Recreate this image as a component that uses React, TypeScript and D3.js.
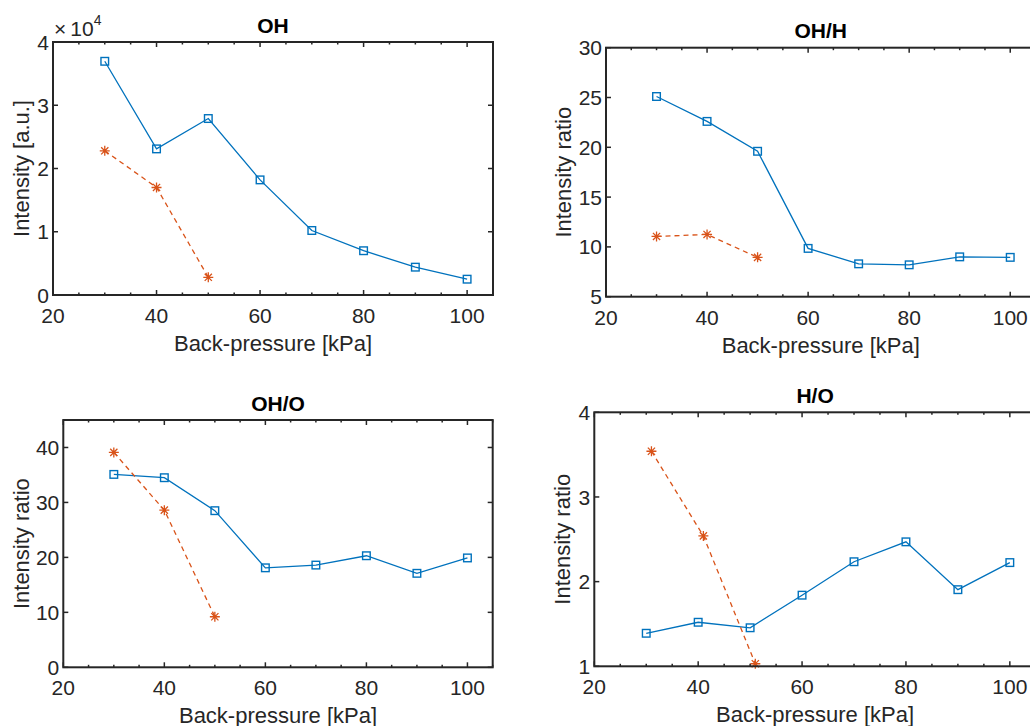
import React from "react";
import * as d3 from "d3";

// ---- data ----
const xBlue = [30, 40, 50, 60, 70, 80, 90, 100];
const xRed = [30, 40, 50];
const xRedHO = [31, 41, 51];

const ohBlue = [36950, 23100, 27900, 18200, 10200, 7000, 4400, 2500];
const ohRed = [22800, 17000, 2800];

const ohhBlue = [25.1, 22.6, 19.6, 9.85, 8.3, 8.2, 9.0, 8.95];
const ohhRed = [11.05, 11.25, 8.95];

const ohoBlue = [35.1, 34.5, 28.5, 18.1, 18.6, 20.3, 17.1, 19.9];
const ohoRed = [39.1, 28.6, 9.2];

const hoBlue = [1.39, 1.52, 1.455, 1.84, 2.235, 2.47, 1.905, 2.225];
const hoRed = [3.54, 2.54, 1.03];

const xTicks = [20, 40, 60, 80, 100];
const xMinorTicks = [25, 30, 35, 45, 50, 55, 65, 70, 75, 85, 90, 95, 105];
const ohTicks = [0, 10000, 20000, 30000, 40000];
const ohhTicks = [5, 10, 15, 20, 25, 30];
const ohoTicks = [0, 10, 20, 30, 40];
const hoTicks = [1, 2, 3, 4];

const titles = ["OH", "OH/H", "OH/O", "H/O"];
const xLabel = "Back-pressure [kPa]";
const yLabels = ["Intensity [a.u.]", "Intensity ratio", "Intensity ratio", "Intensity ratio"];

const BLUE = "#0072BD";
const RED = "#D95319";
const AX = "#262626";
const FONT = "'Liberation Sans', Arial, Helvetica, sans-serif";

type PanelProps = {
  left: number;
  right: number;
  top: number;
  bottom: number;
  yDomain: [number, number];
  yTicks: number[];
  yFmt: (v: number) => string;
  title: string;
  yLabel: string;
  yLabelX: number;
  blueX: number[];
  blueY: number[];
  redX: number[];
  redY: number[];
  exponent?: boolean;
};

function Panel(p: PanelProps) {
  const x = d3.scaleLinear().domain([20, 105]).range([p.left, p.right]);
  const y = d3.scaleLinear().domain(p.yDomain).range([p.bottom, p.top]);
  const line = d3
    .line<[number, number]>()
    .x((d) => x(d[0]))
    .y((d) => y(d[1]));
  const blue: [number, number][] = p.blueX.map((v, i) => [v, p.blueY[i]]);
  const red: [number, number][] = p.redX.map((v, i) => [v, p.redY[i]]);
  const cx = (p.left + p.right) / 2;
  const cy = (p.top + p.bottom) / 2;
  const MJ = 5;
  const MN = 2.5;
  return (
    <g>
      {/* data */}
      <path d={line(blue) || ""} fill="none" stroke={BLUE} strokeWidth={1.3} />
      {blue.map((d, i) => (
        <rect
          key={"b" + i}
          x={x(d[0]) - 3.8}
          y={y(d[1]) - 3.8}
          width={7.6}
          height={7.6}
          fill="none"
          stroke={BLUE}
          strokeWidth={1.4}
        />
      ))}
      <path
        d={line(red) || ""}
        fill="none"
        stroke={RED}
        strokeWidth={1.3}
        strokeDasharray="5 4"
      />
      {red.map((d, i) => {
        const px = x(d[0]);
        const py = y(d[1]);
        const r = 5;
        const q = 3.6;
        return (
          <path
            key={"r" + i}
            d={`M${px - r},${py}L${px + r},${py}M${px},${py - r}L${px},${py + r}M${px - q},${py - q}L${px + q},${py + q}M${px - q},${py + q}L${px + q},${py - q}`}
            stroke={RED}
            strokeWidth={1.3}
            fill="none"
          />
        );
      })}
      {/* ticks */}
      {xTicks.map((t) => (
        <g key={"xt" + t}>
          <line x1={x(t)} x2={x(t)} y1={p.bottom} y2={p.bottom - MJ} stroke={AX} strokeWidth={1.5} />
          <line x1={x(t)} x2={x(t)} y1={p.top} y2={p.top + MJ} stroke={AX} strokeWidth={1.5} />
          <text
            x={x(t)}
            y={p.bottom + 28}
            textAnchor="middle"
            fontSize={21}
            fill={AX}
            fontFamily={FONT}
          >
            {t}
          </text>
        </g>
      ))}
      {xMinorTicks.map((t) => (
        <g key={"xm" + t}>
          <line x1={x(t)} x2={x(t)} y1={p.bottom} y2={p.bottom - MN} stroke={AX} strokeWidth={1.5} />
          <line x1={x(t)} x2={x(t)} y1={p.top} y2={p.top + MN} stroke={AX} strokeWidth={1.5} />
        </g>
      ))}
      {p.yTicks.map((t) => (
        <g key={"yt" + t}>
          <line x1={p.left} x2={p.left + MJ} y1={y(t)} y2={y(t)} stroke={AX} strokeWidth={1.5} />
          <line x1={p.right} x2={p.right - MJ} y1={y(t)} y2={y(t)} stroke={AX} strokeWidth={1.5} />
          <text
            x={p.left - 4}
            y={y(t)}
            dy="0.36em"
            textAnchor="end"
            fontSize={21}
            fill={AX}
            fontFamily={FONT}
          >
            {p.yFmt(t)}
          </text>
        </g>
      ))}
      {/* box */}
      <rect
        x={p.left}
        y={p.top}
        width={p.right - p.left}
        height={p.bottom - p.top}
        fill="none"
        stroke={AX}
        strokeWidth={2}
      />
      {/* labels */}
      <text
        x={cx}
        y={p.bottom + 56}
        textAnchor="middle"
        fontSize={22}
        fill={AX}
        fontFamily={FONT}
      >
        {xLabel}
      </text>
      <text
        transform={`translate(${p.yLabelX},${cy}) rotate(-90)`}
        textAnchor="middle"
        fontSize={22}
        fill={AX}
        fontFamily={FONT}
      >
        {p.yLabel}
      </text>
      <text
        x={cx}
        y={p.top - 9.5}
        textAnchor="middle"
        fontSize={21}
        fontWeight="bold"
        fill="#000"
        fontFamily={FONT}
      >
        {p.title}
      </text>
      {p.exponent && (
        <text x={p.left + 1} y={p.top - 6} fontSize={21} fill={AX} fontFamily={FONT}>
          <tspan>×</tspan>
          <tspan dx={4}>10</tspan>
          <tspan fontSize={14} dy={-11}>
            4
          </tspan>
        </text>
      )}
    </g>
  );
}

export default function App() {
  const plain = (v: number) => String(v);
  return (
    <svg
      width={1030}
      height={726}
      style={{ position: "absolute", left: 0, top: 0, background: "#fff" }}
    >
      <rect x={0} y={0} width={1030} height={726} fill="#fff" />
      <Panel
        left={53}
        right={493}
        top={42}
        bottom={295}
        yDomain={[0, 40000]}
        yTicks={ohTicks}
        yFmt={(v) => String(v / 10000)}
        title={titles[0]}
        yLabel={yLabels[0]}
        yLabelX={29}
        blueX={xBlue}
        blueY={ohBlue}
        redX={xRed}
        redY={ohRed}
        exponent
      />
      <Panel
        left={606}
        right={1035.5}
        top={47.7}
        bottom={296.7}
        yDomain={[5, 30]}
        yTicks={ohhTicks}
        yFmt={plain}
        title={titles[1]}
        yLabel={yLabels[1]}
        yLabelX={571}
        blueX={xBlue}
        blueY={ohhBlue}
        redX={xRed}
        redY={ohhRed}
      />
      <Panel
        left={63.3}
        right={492.7}
        top={420}
        bottom={667.3}
        yDomain={[0, 45]}
        yTicks={ohoTicks}
        yFmt={plain}
        title={titles[2]}
        yLabel={yLabels[2]}
        yLabelX={28.5}
        blueX={xBlue}
        blueY={ohoBlue}
        redX={xRed}
        redY={ohoRed}
      />
      <Panel
        left={594.3}
        right={1035.8}
        top={412.3}
        bottom={666.3}
        yDomain={[1, 4]}
        yTicks={hoTicks}
        yFmt={plain}
        title={titles[3]}
        yLabel={yLabels[3]}
        yLabelX={570}
        blueX={xBlue}
        blueY={hoBlue}
        redX={xRedHO}
        redY={hoRed}
      />
    </svg>
  );
}
